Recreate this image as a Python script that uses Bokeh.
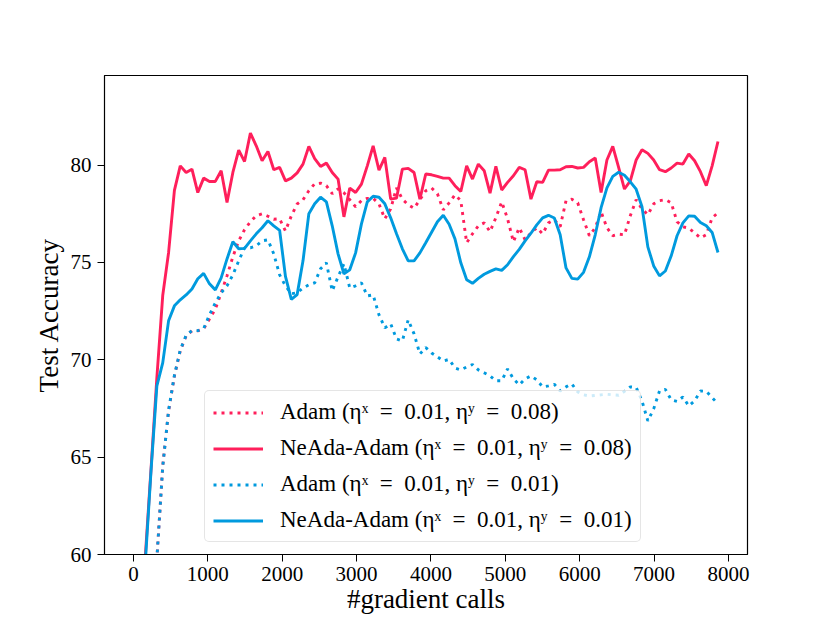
from bokeh.plotting import figure
from bokeh.models import Range1d, Legend, LegendItem, FixedTicker
from bokeh.embed import file_html
from bokeh.resources import INLINE

# evaluation grid (gradient calls)
eval_step = 78.6
calls = [i * eval_step for i in range(101)]

adam_008 = [10, 25, 45, 55, 59.8,
            64.55, 67.37, 69.17, 70.46, 71.23, 71.49, 71.49, 71.59, 72.1, 72.6,
            73.44, 74.31, 75.29, 76.11, 76.68, 77.09, 77.40, 77.50, 77.37, 77.22,
            77.24, 76.62, 77.39, 78.0, 78.22, 78.68, 79.04,
            79.07, 78.94, 78.53, 78.78, 78.58, 78.22, 77.86, 78.17, 78.29, 78.29,
            78.01, 77.24, 77.75, 78.83, 78.25, 77.96, 77.78, 78.22, 78.68, 78.82,
            78.53, 77.70, 78.06, 78.47, 78.17, 76.01, 76.47, 76.88, 77.03, 76.58,
            77.30, 78.11, 77.24, 76.06,
            76.78, 76.16, 76.52, 76.78, 76.47, 77.03, 77.19, 76.83, 78.17, 78.25,
            78.06, 77.19, 76.37, 76.78, 77.60, 76.78, 76.37, 76.45, 76.42, 77.40,
            78.22, 77.75, 77.45, 78.01, 78.17, 78.22, 78.06, 77.09, 76.83, 76.76,
            76.52, 76.26, 76.42, 77.29, 77.55]

neada_008 = [10, 40, 59.8, 64.4, 69.1, 73.3, 75.5, 78.7, 79.96, 79.62,
             79.79, 78.59, 79.33, 79.16, 79.16, 79.71, 78.08, 79.62, 80.77, 80.18,
             81.64, 80.99, 80.22, 80.70, 79.76, 79.88, 79.19, 79.33, 79.6, 80.05,
             80.96, 80.33, 79.93, 80.10, 79.62, 79.28, 77.34, 78.82, 78.59, 79.02,
             79.96, 80.99, 79.74, 80.39, 78.25, 78.30, 79.79, 79.83, 79.62, 78.25,
             79.54, 79.50, 79.42, 79.33, 79.33, 78.94, 78.64, 79.96, 79.28, 80.05,
             79.71, 78.56, 79.93, 78.72, 79.11, 79.45, 79.88, 79.76, 78.25, 79.14,
             79.11, 79.74, 79.74, 79.76, 79.91, 79.93, 79.85, 79.88, 80.17, 80.36,
             78.59, 80.26, 80.96, 79.88, 78.77, 79.19, 80.26, 80.79, 80.60, 80.26,
             79.76, 79.66, 79.85, 80.10, 80.05, 80.57, 80.22, 79.66, 78.94, 79.96,
             81.21]

adam_001 = [10, 25, 45, 55, 59.8,
            64.5, 67.4, 69.2, 70.5, 71.25, 71.5, 71.5, 71.6,
            72.31, 72.92, 73.44, 73.80, 74.36, 75.08, 75.75, 75.75, 75.85, 76.11,
            76.16, 75.44, 74.36, 73.80, 73.39, 73.44, 73.69, 73.85, 73.95, 74.67,
            74.98, 73.54, 74.26, 74.93, 73.69, 73.80, 73.95, 73.28, 73.33, 72.31,
            71.64, 71.85, 71.07, 70.97, 72.05, 71.33, 70.30, 70.63, 70.35, 70.15,
            69.94, 70.02, 69.58, 69.48, 69.63, 69.76, 69.48, 69.33, 69.17, 68.92,
            68.92, 69.53, 69.02, 68.71, 69.02, 69.17, 68.97, 68.61, 68.66, 68.74,
            68.40, 68.61, 68.76, 68.35, 68.20, 68.14, 68.17, 68.20, 68.23, 68.20,
            68.18, 68.38, 68.61, 68.58, 67.89, 66.86, 67.48, 68.40, 68.48, 67.94,
            67.86, 68.09, 67.63, 67.89, 68.40, 68.38, 68.06, 67.73]

neada_001 = [10, 40, 59.5,
             64.3, 68.66, 69.84, 72.0, 72.77, 73.08, 73.33, 73.64, 74.16, 74.44,
             73.90, 73.59, 74.21, 75.18, 76.06, 75.70, 75.72, 76.11, 76.47, 76.78,
             77.14, 76.88, 76.65, 74.28, 73.10, 73.35, 75.08, 77.50, 78.01, 78.35,
             78.11, 76.88, 75.44, 74.41, 74.62, 75.49, 76.98, 78.11, 78.40, 78.35,
             78.01, 77.29, 76.47, 75.70, 75.08, 75.08, 75.49, 76.01, 76.55, 77.09,
             77.42, 76.96, 76.21, 74.98, 74.11, 73.93, 74.18, 74.39, 74.54, 74.67,
             74.59, 74.88, 75.30,
             75.67, 76.11, 76.50, 76.93, 77.29, 77.42, 77.28, 76.42, 74.72, 74.18,
             74.14, 74.49, 75.29, 76.42, 77.81, 78.83, 79.42, 79.63, 79.48, 79.14,
             78.76, 77.86, 75.80, 74.82, 74.31, 74.56, 75.34, 76.37, 77.03, 77.39,
             77.37, 77.05, 76.88, 76.54, 75.51]

labels = ["Adam (\u03b7\u02e3  =  0.01, \u03b7\u02b8  =  0.08)",
          "NeAda-Adam (\u03b7\u02e3  =  0.01, \u03b7\u02b8  =  0.08)",
          "Adam (\u03b7\u02e3  =  0.01, \u03b7\u02b8  =  0.01)",
          "NeAda-Adam (\u03b7\u02e3  =  0.01, \u03b7\u02b8  =  0.01)"]

x_ticks = [0, 1000, 2000, 3000, 4000, 5000, 6000, 7000, 8000]
y_ticks = [60, 65, 70, 75, 80]

RED = "#FF1F5B"
BLUE = "#009ADE"
FONT = "Liberation Serif"

p = figure(width=830, height=623, output_backend="svg", toolbar_location=None,
           x_range=Range1d(-390, 8257), y_range=Range1d(60, 84.6),
           min_border_left=104, min_border_right=83, min_border_top=75,
           min_border_bottom=69)
p.xgrid.visible = False
p.ygrid.visible = False
p.outline_line_color = "black"
p.outline_line_width = 1.2
p.background_fill_color = "white"
p.border_fill_color = "white"

lw = 2.9
r0 = p.line(calls, adam_008, color=RED, line_width=lw, line_dash="3 5", line_cap="butt")
r1 = p.line(calls, neada_008, color=RED, line_width=lw)
r2 = p.line(calls, adam_001, color=BLUE, line_width=lw, line_dash="3 5", line_cap="butt")
r3 = p.line(calls, neada_001, color=BLUE, line_width=lw)

for ax in (p.xaxis[0], p.yaxis[0]):
    ax.major_label_text_font = FONT
    ax.major_label_text_font_size = "21px"
    ax.major_label_text_color = "black"
    ax.axis_label_text_font = FONT
    ax.axis_label_text_font_size = "27px"
    ax.axis_label_text_font_style = "normal"
    ax.axis_label_text_color = "black"
    ax.axis_line_color = "black"
    ax.major_tick_line_color = "black"
    ax.major_tick_out = 7
    ax.major_tick_in = 0
    ax.minor_tick_line_color = None

p.xaxis[0].ticker = FixedTicker(ticks=x_ticks)
p.yaxis[0].ticker = FixedTicker(ticks=y_ticks)
p.xaxis[0].axis_label = "#gradient calls"
p.yaxis[0].axis_label = "Test Accuracy"
p.xaxis[0].major_label_standoff = 5
p.xaxis[0].axis_label_standoff = 0
p.yaxis[0].major_label_standoff = 6
p.yaxis[0].axis_label_standoff = 4

legend = Legend(items=[LegendItem(label=labels[0], renderers=[r0]),
                       LegendItem(label=labels[1], renderers=[r1]),
                       LegendItem(label=labels[2], renderers=[r2]),
                       LegendItem(label=labels[3], renderers=[r3])],
                location=(100, 12))
legend.label_text_font = FONT
legend.label_text_font_size = "23px"
legend.label_text_color = "black"
legend.glyph_width = 50
legend.glyph_height = 25
legend.label_height = 25
legend.label_standoff = 17
legend.spacing = 10
legend.padding = 8
legend.margin = 0
legend.border_line_color = "#cccccc"
legend.border_line_width = 1
legend.background_fill_color = "white"
legend.background_fill_alpha = 0.8
if "border_radius" in Legend.properties():
    legend.border_radius = 5
p.add_layout(legend, "center")

open("out.html", "w").write(file_html(p, INLINE))
